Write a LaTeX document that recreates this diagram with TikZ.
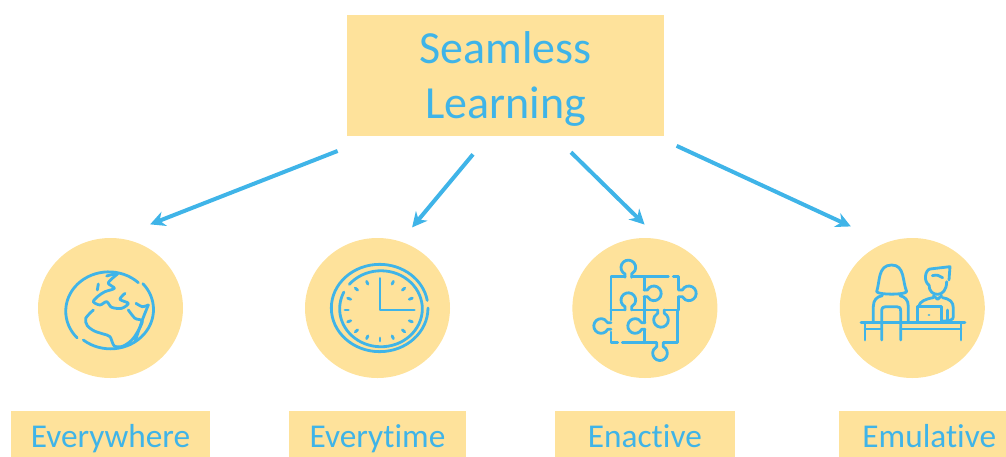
\documentclass[tikz,border=0pt]{standalone}
\usepackage{fontspec}
\setmainfont[Ligatures=NoCommon]{Carlito}
\usepackage{xcolor}
\usepackage{tikz}
\usetikzlibrary{positioning,arrows.meta,shapes.geometric}
\definecolor{seamblue}{HTML}{3FB4E8}
\definecolor{seamyellow}{HTML}{FEE29B}
\tikzset{title node/.style={rectangle,fill=seamyellow,minimum width=317pt,minimum height=121pt,inner sep=0pt,text=seamblue,align=center,font=\fontsize{46}{55}\selectfont},}
\tikzset{main node/.style={ellipse,fill=seamyellow,minimum width=145pt,minimum height=140pt,inner sep=0pt},}
\tikzset{label node/.style={rectangle,fill=seamyellow,minimum height=52pt,inner sep=0pt,text=seamblue,text height=26pt,text depth=6pt,font=\fontsize{33.3}{38}\selectfont},}
\tikzset{icon/.style={draw=seamblue,line width=2.8pt,line cap=round,line join=round},}
\tikzset{flow/.style={draw=seamblue,line width=4pt,-{Stealth[length=15pt,width=15pt]}},}
\newcommand{\pzknob}[3]{\draw[icon,shift={(#1,#2)},rotate=#3] (-10,30) -- (-10,20) arc[start angle=117,end angle=423,radius=22] -- (10,30);}

\begin{document}
\begin{tikzpicture}[x=1pt,y=-1pt]
	\useasboundingbox (0,0) rectangle (1006,456);

    \node[title node] (title) at (505.5,75.5) {\rule{0pt}{39pt}Seamless\\Learning};
    \node[main node] (c1) at (110.5,308) {};
    \node[main node] (c2) [right = 121.6pt of c1] {};
    \node[main node] (c3) [right = 122pt of c2] {};
    \node[main node] (c4) [right = 122pt of c3] {};
    \node[label node,minimum width=199pt] (l1) [below = 33pt of c1] {Everywhere};
    \node[label node,minimum width=177pt] (l2) [below = 33pt of c2] {Everytime};
    \node[label node,minimum width=180pt] (l3) [below = 33pt of c3] {Enactive};
    \node[label node,minimum width=180pt,xshift=17pt] (l4) [below = 33pt of c4] {Emulative};

    \path
    (title.205.8) edge[flow,shorten <=40.5pt,shorten >=37.3pt] (c1.86.7)
    (title.254) edge[flow,shorten <=23.6pt,shorten >=18.2pt] (c2.71.2)
    (title.309.6) edge[flow,shorten <=22.9pt,shorten >=20.9pt] (c3.78)
    (title.338.6) edge[flow,shorten <=23pt,shorten >=38.6pt] (c4.112)
    ;

	\begin{scope}[shift={(55,260)},x=.3333pt,y=-.3333pt]
    \draw[icon] (250,68) arc[start angle=-46.5,end angle=-222.7,x radius=129,y radius=118];
    \draw[icon] (85,240) arc[start angle=-230.8,end angle=-401,x radius=129,y radius=118];
    \draw[icon] plot[smooth] coordinates {(155,48) (188,40) (172,55) (160,70) (178,85) (150,95) (130,108) (115,125) (135,135) (155,125) (170,142) (200,145) (220,130) (195,118) (210,100)};
    \draw[icon] (130,72) -- (127,90);
    \draw[icon] plot[smooth] coordinates {(115,150) (92,175) (97,197) (118,213) (145,222) (165,230) (178,258) (205,258) (235,235) (262,185) (240,175) (220,150)};
    \draw[icon] plot[smooth] coordinates {(243,130) (262,140) (280,135)};
    \draw[icon] plot[smooth] coordinates {(280,135) (262,180) (240,245)};
    \end{scope}

	\begin{scope}[shift={(320,255)},x=.3333pt,y=-.3333pt]
    \draw[icon] (324,159) arc[start angle=0,end angle=350,x radius=145,y radius=131];
    \draw[icon] (88,88) arc[start angle=-140,end angle=206,x radius=124,y radius=114];
    \draw[icon] (180,70) -- (180,165) -- (283,165);
    \foreach \a in {22.5,45,67.5,112.5,135,157.5,180,202.5,225,247.5,270,292.5,315,337.5}
    	\draw[icon] ({180+95*sin(\a)},{165-84*cos(\a)}) -- ({180+105*sin(\a)},{165-93*cos(\a)});
    \end{scope}

	\begin{scope}[shift={(585,250)},x=.3333pt,y=-.3333pt]
    \draw[icon] (250,80) -- (140,80);
    \draw[icon] (120,80) -- (78,80) -- (78,210);
    \draw[icon] (78,246) -- (78,278) -- (98,278);
    \draw[icon] (112,278) -- (215,278);
    \draw[icon] (235,278) -- (278,278) -- (278,180);
    \draw[icon] (265,80) -- (280,80) -- (280,120);
    \draw[icon] (280,140) -- (280,180);
    \draw[icon] (178,80) -- (178,120);
    \draw[icon] (178,140) -- (178,218);
    \draw[icon] (178,238) -- (178,278);
    \draw[icon] (78,180) -- (120,180);
    \draw[icon] (140,180) -- (218,180);
    \draw[icon] (238,180) -- (280,180);
    \pzknob{130}{52}{0}
    \pzknob{312}{130}{270}
    \pzknob{48}{228}{90}
    \pzknob{225}{310}{180}
    \pzknob{130}{150}{0}
    \pzknob{207}{130}{270}
    \pzknob{150}{228}{90}
    \pzknob{228}{210}{180}
    \end{scope}

	\begin{scope}[shift={(855,255)},x=.3333pt,y=-.3333pt]
    \draw[icon] (18,203) -- (330,203);
    \draw[icon] (30,203) -- (30,255);
    \draw[icon] (318,203) -- (318,255);
    \draw[icon] (30,222) -- (80,222);
    \draw[icon] (137,222) -- (318,222);
    \draw[icon] (80,255) -- (80,168) .. controls (80,158) and (85,155) .. (92,155) -- (125,155) .. controls (133,155) and (137,158) .. (137,168) -- (137,255);
    \draw[icon] (65,110) .. controls (75,80) and (68,30) .. (110,30) .. controls (150,30) and (142,80) .. (155,110) .. controls (150,120) and (70,120) .. (65,110) -- cycle;
    \draw[icon] (82,122) .. controls (65,125) and (55,135) .. (55,155) -- (55,200);
    \draw[icon] (135,122) .. controls (150,125) and (160,135) .. (160,155) -- (160,200);
    \draw[icon] (187,200) -- (187,155) -- (260,155) -- (260,200);
    \draw[icon] (222,180) -- (222.1,180);
    \draw[icon] (222,90) .. controls (222,110) and (235,118) .. (248,118) .. controls (262,118) and (275,105) .. (275,80);
    \draw[icon] (222,90) .. controls (205,80) and (210,45) .. (225,42) -- (285,35) -- (282,75);
    \draw[icon] (232,62) .. controls (245,58) and (255,62) .. (263,68);
    \draw[icon] (235,122) -- (248,133) -- (260,122);
    \draw[icon] (235,128) .. controls (210,132) and (195,140) .. (192,152);
    \draw[icon] (262,128) .. controls (285,132) and (295,140) .. (295,160) -- (295,185) .. controls (295,195) and (285,198) .. (262,198);
    \draw[icon] (278,165) -- (278,195);
    \end{scope}
	\end{tikzpicture}
\end{document}
